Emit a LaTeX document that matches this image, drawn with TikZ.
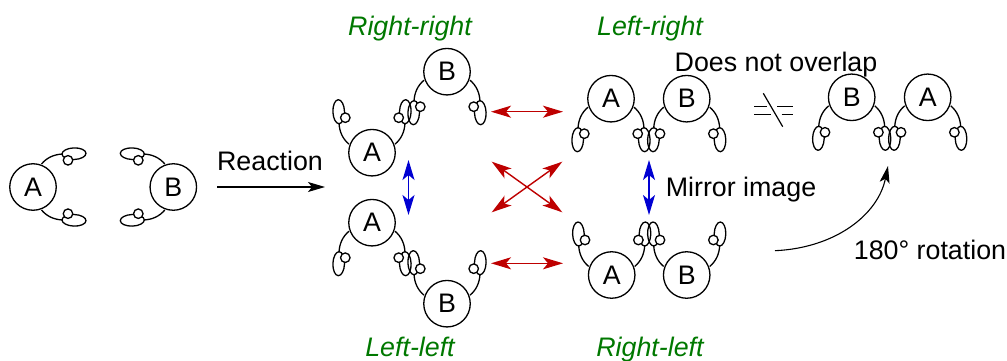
\documentclass[tikz,border=0pt]{standalone}
\usepackage{fontspec}
\setmainfont{Liberation Sans}
\usetikzlibrary{arrows.meta}
\definecolor{rxred}{RGB}{190,0,0}
\definecolor{rxblue}{RGB}{0,0,210}
\definecolor{rxgreen}{RGB}{0,120,0}
\tikzset{
  atom/.style={circle,draw=black,line width=1.3pt,fill=white,minimum size=46.5pt,inner sep=0pt,font=\fontsize{26.8}{30}\selectfont},
  lobe/.style={draw=black,line width=1.3pt},
  bond/.style={draw=black,line width=1.3pt},
  tinyatom/.style={circle,draw=black,line width=1.3pt,fill=white,minimum size=9.5pt,inner sep=0pt},
  lbl/.style={font=\fontsize{26.8}{30}\selectfont,inner sep=0pt,anchor=base},
  iso/.style={font=\fontsize{26.8}{30}\selectfont\itshape,text=rxgreen,inner sep=0pt,anchor=base},
  redarrow/.style={draw=rxred,line width=1.4pt,{Stealth[length=20pt,width=12pt,inset=5pt]}-{Stealth[length=20pt,width=12pt,inset=5pt]}},
  bluearrow/.style={draw=rxblue,line width=1.4pt,{Stealth[length=20pt,width=12pt,inset=5pt]}-{Stealth[length=20pt,width=12pt,inset=5pt]}},
  blackarrow/.style={draw=black,line width=1.1pt,-{Stealth[length=17pt,width=10pt,inset=4pt]}},
  eqline/.style={draw=black,line width=1.2pt}
}
% name, x, y, letter, rotation
\newcommand{\molecule}[5]{%
  \begin{scope}[shift={(#2,#3)},rotate=#5]
    \draw[lobe] (-33.3,-41) ellipse [x radius=5.8pt,y radius=12pt,rotate=2];
    \draw[lobe] (33.3,-41) ellipse [x radius=5.8pt,y radius=12pt,rotate=-2];
    \coordinate (#1bl) at (-23,-8.5);
    \coordinate (#1el) at (-33,-29.5);
    \coordinate (#1br) at (23,-8.5);
    \coordinate (#1er) at (33,-29.5);
    \draw[bond] (#1bl) .. controls (-29.5,-14) and (-32.5,-21) .. (#1el);
    \draw[bond] (#1br) .. controls (29.5,-14) and (32.5,-21) .. (#1er);
    \node[tinyatom] (#1sl) at (-26.7,-35) {};
    \node[tinyatom] (#1sr) at (26.7,-35) {};
  \end{scope}
  \node[atom] (#1) at (#2,#3) {#4};
}
\begin{document}
\begin{tikzpicture}[x=1pt,y=-1pt]
\useasboundingbox (0,0) rectangle (1007,361);
\molecule{pa}{33}{187}{A}{-90}
\molecule{pb}{173.3}{187}{B}{90}
\molecule{rra}{372}{152.7}{A}{0}
\molecule{rrb}{447}{71.7}{B}{180}
\molecule{lla}{372}{222.7}{A}{180}
\molecule{llb}{447}{303.7}{B}{0}
\molecule{lra}{611}{98.7}{A}{180}
\molecule{lrb}{686.7}{98.7}{B}{180}
\molecule{rla}{611.7}{275}{A}{0}
\molecule{rlb}{686.7}{275}{B}{0}
\molecule{xb}{851.7}{97.3}{B}{180}
\molecule{xa}{927.7}{97.3}{A}{180}
\node[iso] (t1) at (410,35.5) {Right-right};
\node[iso] (t2) at (650,35.5) {Left-right};
\node[iso] (t3) at (410,356.5) {Left-left};
\node[iso] (t4) at (650,356.5) {Right-left};
\node[lbl] (t5) at (776,71) {Does not overlap};
\node[lbl] (t6) at (741,196) {Mirror image};
\node[lbl] (t7) at (930,259) {180° rotation};
\node[lbl] (t8) at (270,170.5) {Reaction};
\coordinate (r1) at (217,187); \coordinate (r2) at (325,187);
\draw[blackarrow] (r1) -- (r2);
\coordinate (h1) at (491,111.7); \coordinate (h2) at (563,111.7);
\coordinate (h3) at (491,263.3); \coordinate (h4) at (563,263.3);
\draw[redarrow] (h1) -- (h2);
\draw[redarrow] (h3) -- (h4);
\coordinate (c1) at (491.7,161.7); \coordinate (c2) at (562.3,212.3);
\coordinate (c3) at (491.7,212.3); \coordinate (c4) at (562.3,161.7);
\draw[redarrow] (c1) -- (c2);
\draw[redarrow] (c3) -- (c4);
\coordinate (b1) at (408.5,160); \coordinate (b2) at (408.5,215);
\coordinate (b3) at (649,160); \coordinate (b4) at (649,215);
\draw[bluearrow] (b1) -- (b2);
\draw[bluearrow] (b3) -- (b4);
\coordinate (k1) at (775,250.7); \coordinate (k2) at (888,166);
\draw[blackarrow] (k1) .. controls (835,248) and (878,215) .. (k2);
\coordinate (e1) at (754,106.7); \coordinate (e2) at (766.7,106.7);
\coordinate (e1b) at (777.3,106.7); \coordinate (e2b) at (792.7,106.7);
\coordinate (e3) at (754,114.3); \coordinate (e4) at (771,114.3);
\coordinate (e3b) at (781.7,114.3); \coordinate (e4b) at (792.7,114.3);
\coordinate (e5) at (763.3,93.3); \coordinate (e6) at (782.7,126.7);
\draw[eqline] (e1) -- (e2);
\draw[eqline] (e1b) -- (e2b);
\draw[eqline] (e3) -- (e4);
\draw[eqline] (e3b) -- (e4b);
\draw[eqline] (e5) -- (e6);
\end{tikzpicture}
\end{document}
